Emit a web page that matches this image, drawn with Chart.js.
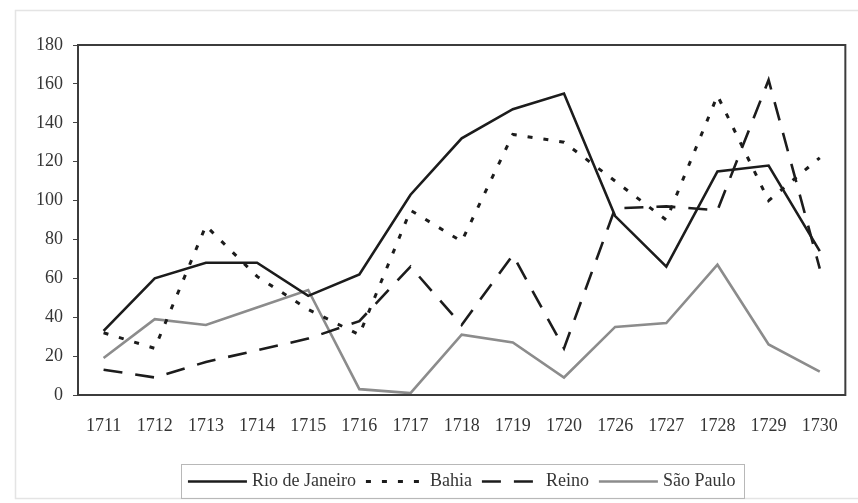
<!DOCTYPE html>
<html>
<head>
<meta charset="utf-8">
<script src="https://cdn.jsdelivr.net/npm/chart.js@4"></script>
<style>
  html, body { margin: 0; padding: 0; background: #fff; }
  #wrap { width: 858px; height: 503px; position: relative; }
</style>
</head>
<body>
<div id="wrap"><canvas id="myChart" width="858" height="503"></canvas></div>
<script>
// years on the x axis (note the gap 1720 -> 1726)
const years = ['1711','1712','1713','1714','1715','1716','1717','1718','1719','1720','1726','1727','1728','1729','1730'];

const rioDeJaneiro = [33, 60, 68, 68, 51, 62, 103, 132, 147, 155, 92, 66, 115, 118, 74];
const bahia        = [32, 24, 87, 61, 44, 31, 95, 79, 134, 130, 110, 90, 154, 100, 122];
const reino        = [13, 9, 17, 23, 29, 38, 66, 36, 72, 24, 96, 97, 95, 162, 65];
const saoPaulo     = [19, 39, 36, 45, 54, 3, 1, 31, 27, 9, 35, 37, 67, 26, 12];

const yMin = 0, yMax = 180, yStep = 20;

const FONT = 'Liberation Serif';
const TXT = '#353535';
const SAMPLE_W = 59;

// plot frame, legend box with line samples, faint page frame
const framePlugin = {
    id: 'frames',
    afterLayout(chart) {
        // legend is centred under the plot area, not the canvas
        const lg = chart.legend;
        const a = chart.chartArea;
        const shift = (a.left + a.right) / 2 - (lg.left + lg.right) / 2;
        lg.left += shift;
        lg.right += shift;
    },
    beforeDraw(chart) {
        const ctx = chart.ctx;
        ctx.save();
        ctx.strokeStyle = '#e4e4e4';
        ctx.lineWidth = 1.5;
        ctx.strokeRect(15.5, 10.5, 850, 488);
        ctx.restore();
    },
    afterDraw(chart) {
        const ctx = chart.ctx;
        const a = chart.chartArea;
        ctx.save();
        ctx.strokeStyle = '#3c3c3c';
        ctx.lineWidth = 2;
        ctx.strokeRect(a.left, a.top, a.right - a.left, a.bottom - a.top);

        const hb = chart.legend.legendHitBoxes;
        if (hb && hb.length) {
            let l = Infinity, r = -Infinity, t = Infinity, b = -Infinity;
            hb.forEach((h, i) => {
                l = Math.min(l, h.left); r = Math.max(r, h.left + h.width);
                t = Math.min(t, h.top); b = Math.max(b, h.top + h.height);
                const ds = chart.data.datasets[i];
                const y = Math.round(h.top + h.height / 2) + 0.5;
                ctx.beginPath();
                ctx.setLineDash(ds.borderDash || []);
                ctx.lineWidth = ds.borderWidth;
                ctx.strokeStyle = ds.borderColor;
                ctx.moveTo(h.left, y);
                ctx.lineTo(h.left + SAMPLE_W, y);
                ctx.stroke();
            });
            ctx.setLineDash([]);
            ctx.strokeStyle = '#b8b8b8';
            ctx.lineWidth = 1;
            ctx.strokeRect(Math.round(l - 7) + 0.5, Math.round(t - 8) + 0.5, Math.round(r - l + 16), Math.round(b - t + 16));
        }
        ctx.restore();
    }
};

const ctx = document.getElementById('myChart').getContext('2d');

new Chart(ctx, {
    type: 'line',
    data: {
        labels: years,
        datasets: [{
            label: 'Rio de Janeiro',
            data: rioDeJaneiro,
            borderColor: '#1c1c1c',
            borderWidth: 2.6,
        }, {
            label: 'Bahia',
            data: bahia,
            borderColor: '#1c1c1c',
            borderWidth: 3,
            borderDash: [5, 11],
        }, {
            label: 'Reino',
            data: reino,
            borderColor: '#1c1c1c',
            borderWidth: 2.6,
            borderDash: [19, 13],
        }, {
            label: 'São Paulo',
            data: saoPaulo,
            borderColor: '#8c8c8c',
            borderWidth: 2.6,
        }]
    },
    options: {
        responsive: false,
        animation: false,
        devicePixelRatio: 1,
        layout: { padding: { left: 0, right: 7, top: 45, bottom: 3 } },
        elements: {
            point: { radius: 0 },
            line: { tension: 0, fill: false, borderCapStyle: 'butt' }
        },
        plugins: {
            tooltip: { enabled: false },
            legend: {
                position: 'bottom',
                labels: {
                    usePointStyle: true,
                    pointStyle: 'line',
                    pointStyleWidth: 55,
                    padding: 10,
                    color: TXT,
                    font: { family: FONT, size: 18 },
                    generateLabels(chart) {
                        // samples are drawn by the frames plugin (dashed)
                        return Chart.defaults.plugins.legend.labels.generateLabels(chart).map(it => {
                            it.strokeStyle = 'rgba(0,0,0,0)';
                            it.fillStyle = 'rgba(0,0,0,0)';
                            return it;
                        });
                    }
                }
            }
        },
        scales: {
            x: {
                offset: true,
                grid: { display: false, drawTicks: false },
                border: { display: false },
                ticks: { color: TXT, padding: 20, font: { family: FONT, size: 18 }, maxRotation: 0 },
                afterFit(s) { s.height = 67; }
            },
            y: {
                min: yMin,
                max: yMax,
                grid: { drawOnChartArea: false, drawTicks: true, tickLength: 5, color: '#444' },
                border: { display: false },
                ticks: { stepSize: yStep, color: TXT, padding: 10, font: { family: FONT, size: 18 } },
                afterFit(s) { s.width = 78; }
            }
        }
    },
    plugins: [framePlugin]
});
</script>
</body>
</html>
